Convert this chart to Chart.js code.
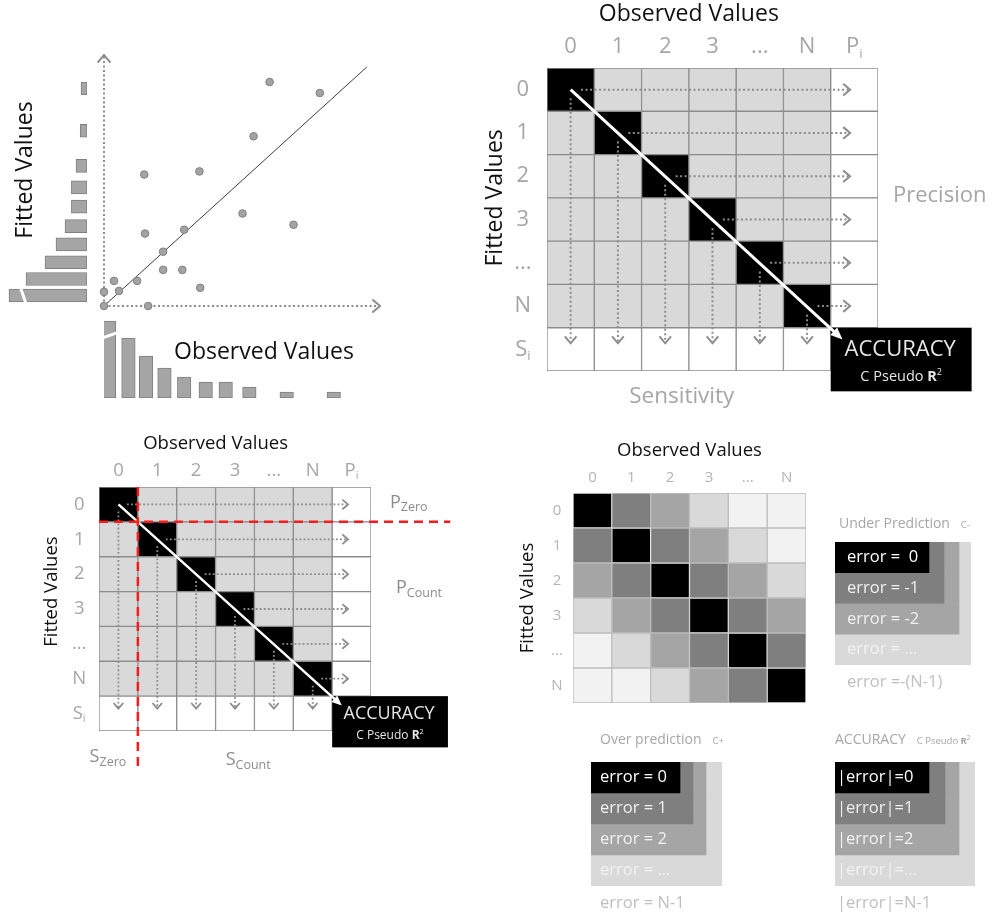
<!DOCTYPE html>
<html>
<head>
<meta charset="utf-8">
<script src="https://cdn.jsdelivr.net/npm/chart.js@4.4.1/dist/chart.umd.min.js"></script>
<style>
    html, body { margin: 0; padding: 0; background: #fff; }
    #page { position: relative; width: 1004px; height: 916px; overflow: hidden; }
    #page canvas { position: absolute; }
</style>
</head>
<body>
<div id="page"></div>
<script>
// ============================================
// Data
// ============================================

// Top-left scatter: observed vs fitted (axis units 0..10)
const scatterObserved = [6.30, 8.21, 5.69, 1.53, 3.63, 5.27, 7.21, 1.56, 3.05, 2.25, 2.25, 2.98, 3.66, 0.38, 1.26, 0.57, 0.00, 0.00, 1.68];
const scatterFitted   = [9.37, 8.91, 7.10, 5.50, 5.63, 3.87, 3.40, 3.03, 3.19, 2.27, 1.51, 1.51, 0.76, 1.05, 1.05, 0.63, 0.59, 0.00, 0.00];
const fitLine = [0, 10];

// Marginal histograms
const fittedBins     = [9.10, 7.33, 5.86, 4.96, 4.16, 3.34, 2.58, 1.83, 1.13, 0.44];
const fittedCounts   = [1.5, 1.7, 2.75, 3.9, 3.9, 5.5, 7.75, 10.5, 15.25, 19.5];
const observedBins   = [0.19, 0.93, 1.60, 2.30, 3.05, 3.87, 4.63, 5.53, 6.95, 8.74];
const observedCounts = [19.25, 15, 10.5, 7.5, 5.25, 4, 4, 2.75, 1.5, 1.5];

// Confusion matrices
const observedLabels = ['0', '1', '2', '3', '...', 'N'];
const fittedLabels   = ['0', '1', '2', '3', '...', 'N'];

// Error level per cell (|fitted - observed|, capped)
const heatLevels = [
    [0, 1, 2, 3, 4, 4],
    [1, 0, 1, 2, 3, 4],
    [2, 1, 0, 1, 2, 3],
    [3, 2, 1, 0, 1, 2],
    [4, 3, 2, 1, 0, 1],
    [4, 4, 3, 2, 1, 0],
];

// Legends
const underLabels = ['error =  0', 'error = -1', 'error = -2', 'error = ...', 'error =-(N-1)'];
const overLabels  = ['error = 0', 'error = 1', 'error = 2', 'error = ...', 'error = N-1'];
const accLabels   = ['|error|=0', '|error|=1', '|error|=2', '|error|=...', '|error|=N-1'];

// ============================================
// Styles
// ============================================

const FONT = "'Open Sans', 'DejaVu Sans', sans-serif";
const LINE_GRAY = '#8c8c8c';
const LABEL_GRAY = '#a6a6a6';
const SHADES = ['#000000', '#7f7f7f', '#a5a5a5', '#d9d9d9', '#f2f2f2'];
const BAR_FILL = '#a5a5a5';
const BAR_EDGE = '#7f7f7f';

// how far each shade reaches in the nested legend boxes
const underReach = [94, 109, 124, 136];
const overReach  = [89, 102, 115, 131];
const accReach   = [94, 110, 124, 140];

// ============================================
// Helpers
// ============================================

function put(left, top, w, h) {
    const c = document.createElement('canvas');
    c.width = w;
    c.height = h;
    c.style.left = left + 'px';
    c.style.top = top + 'px';
    c.style.width = w + 'px';
    c.style.height = h + 'px';
    document.getElementById('page').appendChild(c);
    return c;
}

function base(pad) {
    return {
        responsive: false,
        animation: false,
        events: [],
        layout: { padding: pad },
        plugins: { legend: { display: false }, tooltip: { enabled: false } },
    };
}

function font(size, weight) {
    return `${weight || 400} ${size}px ${FONT}`;
}

const T = (t, size, color, extra) => Object.assign({ t, size, color }, extra || {});

// draw a run of text parts (for subscripts / superscripts)
function text(ctx, parts, x, y, align, rotate) {
    ctx.save();
    ctx.translate(x, y);
    if (rotate) ctx.rotate(rotate);
    let total = 0;
    for (const p of parts) {
        ctx.font = font(p.size, p.weight);
        p.w = ctx.measureText(p.t).width;
        total += p.w;
    }
    let cx = align === 'center' ? -total / 2 : align === 'right' ? -total : 0;
    ctx.textAlign = 'left';
    ctx.textBaseline = 'middle';
    for (const p of parts) {
        ctx.font = font(p.size, p.weight);
        ctx.fillStyle = p.color;
        ctx.fillText(p.t, cx, p.dy || 0);
        cx += p.w;
    }
    ctx.restore();
}

function chevron(ctx, x, y, ang, len, spread) {
    ctx.beginPath();
    ctx.moveTo(x - len * Math.cos(ang - spread), y - len * Math.sin(ang - spread));
    ctx.lineTo(x, y);
    ctx.lineTo(x - len * Math.cos(ang + spread), y - len * Math.sin(ang + spread));
    ctx.stroke();
}

function dottedArrow(ctx, x1, y1, x2, y2, lw, head) {
    const ang = Math.atan2(y2 - y1, x2 - x1);
    ctx.save();
    ctx.strokeStyle = LINE_GRAY;
    ctx.lineWidth = lw;
    ctx.setLineDash([lw, lw * 1.25]);
    ctx.beginPath();
    ctx.moveTo(x1, y1);
    ctx.lineTo(x2 - Math.cos(ang) * lw, y2 - Math.sin(ang) * lw);
    ctx.stroke();
    ctx.setLineDash([]);
    chevron(ctx, x2, y2, ang, head, 0.7);
    ctx.restore();
}

function whiteArrow(ctx, x1, y1, x2, y2, lw, head) {
    const ang = Math.atan2(y2 - y1, x2 - x1);
    ctx.save();
    ctx.strokeStyle = '#fff';
    ctx.fillStyle = '#fff';
    ctx.lineWidth = lw;
    ctx.beginPath();
    ctx.moveTo(x1, y1);
    ctx.lineTo(x2 - Math.cos(ang) * head * 0.8, y2 - Math.sin(ang) * head * 0.8);
    ctx.stroke();
    ctx.beginPath();
    ctx.moveTo(x2, y2);
    ctx.lineTo(x2 - head * Math.cos(ang - 0.4), y2 - head * Math.sin(ang - 0.4));
    ctx.lineTo(x2 - head * Math.cos(ang + 0.4), y2 - head * Math.sin(ang + 0.4));
    ctx.closePath();
    ctx.fill();
    ctx.restore();
}

// white slash across a bar to show it was cut short
function slash(ctx, x1, y1, x2, y2) {
    ctx.save();
    ctx.strokeStyle = '#fff';
    ctx.lineWidth = 3;
    ctx.beginPath();
    ctx.moveTo(x1, y1);
    ctx.lineTo(x2, y2);
    ctx.stroke();
    ctx.restore();
}

// ============================================
// Top-left: scatter + marginal histograms
// ============================================

new Chart(put(96, 47, 292, 267), {
    type: 'scatter',
    data: {
        datasets: [
            {
                data: scatterObserved.map((x, i) => ({ x, y: scatterFitted[i] })),
                pointRadius: 3.8,
                pointBackgroundColor: '#a3a3a3',
                pointBorderColor: '#808080',
                pointBorderWidth: 1,
                clip: false,
                order: 0,
            },
            {
                type: 'line',
                data: fitLine.map(v => ({ x: v, y: v })),
                borderColor: '#3c3c3c',
                borderWidth: 1,
                pointRadius: 0,
                clip: false,
                order: 1,
            },
        ],
    },
    options: {
        ...base({ left: 8, right: 8, top: 8, bottom: 8 }),
        scales: {
            x: { type: 'linear', display: false, min: 0, max: 10.5 },
            y: { type: 'linear', display: false, min: 0, max: 10.5 },
        },
    },
    plugins: [{
        id: 'dottedAxes',
        beforeDatasetsDraw(chart) {
            const { ctx, scales: { x, y } } = chart;
            const x0 = x.getPixelForValue(0), y0 = y.getPixelForValue(0);
            dottedArrow(ctx, x0, y0, x.getPixelForValue(10.5), y0, 2, 10);
            dottedArrow(ctx, x0, y0, x0, y.getPixelForValue(10.5), 2, 10);
        },
    }],
});

new Chart(put(0, 47, 95, 267), {
    type: 'bar',
    data: {
        datasets: [{
            data: fittedBins.map((b, i) => ({ y: b, x: fittedCounts[i] })),
            backgroundColor: BAR_FILL,
            borderColor: BAR_EDGE,
            borderWidth: 1,
            borderSkipped: false,
            barThickness: 13,
        }],
    },
    options: {
        ...base({ left: 4, right: 8, top: 8, bottom: 8 }),
        indexAxis: 'y',
        scales: {
            x: { type: 'linear', display: false, min: 0, max: 20.75, reverse: true },
            y: { type: 'linear', display: false, min: 0, max: 10.5, offset: false },
        },
    },
    plugins: [{
        id: 'fitLabels',
        afterDraw(chart) {
            const { ctx, scales: { x } } = chart;
            const bar = chart.getDatasetMeta(0).data[fittedBins.length - 1];
            slash(ctx, x.getPixelForValue(16.6), bar.y - bar.height / 2 - 1,
                x.getPixelForValue(15.3), bar.y + bar.height / 2 + 1);
            text(ctx, [T('Fitted Values', 23, '#111')], 25, 123, 'center', -Math.PI / 2);
        },
    }],
});

new Chart(put(96, 310, 292, 96), {
    type: 'bar',
    data: {
        datasets: [{
            data: observedBins.map((b, i) => ({ x: b, y: observedCounts[i] })),
            backgroundColor: BAR_FILL,
            borderColor: BAR_EDGE,
            borderWidth: 1,
            borderSkipped: false,
            barThickness: 13.5,
        }],
    },
    options: {
        ...base({ left: 8, right: 8, top: 8, bottom: 8 }),
        scales: {
            x: { type: 'linear', display: false, min: 0, max: 10.5, offset: false },
            y: { type: 'linear', display: false, min: 0, max: 20 },
        },
    },
    plugins: [{
        id: 'obsLabels',
        afterDraw(chart) {
            const { ctx, scales: { y } } = chart;
            const bar = chart.getDatasetMeta(0).data[0];
            slash(ctx, bar.x - bar.width / 2 - 1, y.getPixelForValue(14.9),
                bar.x + bar.width / 2 + 1, y.getPixelForValue(16.3));
            text(ctx, [T('Observed Values', 23, '#111')], 78, 42, 'left');
        },
    }],
});

// ============================================
// Confusion matrices (stacked bars = cells)
// ============================================

function confusionChart(canvas, pad, S) {
    const n = observedLabels.length;
    const rowKeys = [...fittedLabels, 'S'];
    const colKeys = [...observedLabels, 'P'];
    const shade = (i, j) => (i === n || j === n) ? '#ffffff' : i === j ? SHADES[0] : SHADES[3];

    return new Chart(canvas, {
        type: 'bar',
        data: {
            labels: rowKeys,
            datasets: colKeys.map((c, j) => ({
                data: rowKeys.map((r, i) => (i === n && j === n) ? null : 1),
                backgroundColor: rowKeys.map((r, i) => shade(i, j)),
                borderColor: LINE_GRAY,
                borderWidth: 1,
                borderSkipped: false,
                categoryPercentage: 1,
                barPercentage: 1,
            })),
        },
        options: {
            ...base(pad),
            indexAxis: 'y',
            scales: {
                x: { type: 'linear', display: false, min: 0, max: n + 1, stacked: true },
                y: { display: false, stacked: true },
            },
        },
        plugins: [{
            id: 'confusion',
            afterDraw(chart) {
                const { ctx, chartArea: a, scales: { x, y } } = chart;
                const cw = x.getPixelForValue(1) - x.getPixelForValue(0);
                const rh = y.getPixelForValue(1) - y.getPixelForValue(0);

                // precision (row) and sensitivity (column) arrows
                for (let i = 0; i < n; i++) {
                    const yc = y.getPixelForValue(i);
                    dottedArrow(ctx, x.getPixelForValue(i + 0.72), yc, x.getPixelForValue(n + 0.41), yc, S.lw, S.head);
                    const xc = x.getPixelForValue(i + 0.5);
                    dottedArrow(ctx, xc, y.getPixelForValue(i + 0.2), xc, y.getPixelForValue(n - 0.14), S.lw, S.head);
                }

                // accuracy box
                const bx = x.getPixelForValue(n), by = y.getPixelForValue(n - 0.5);
                const bw = 2.98 * cw, bh = 1.47 * rh;
                ctx.fillStyle = '#000';
                ctx.fillRect(bx, by, bw, bh);
                text(ctx, [T('ACCURACY', S.acc, '#e6e6e6')], bx + bw / 2 - 1, by + 0.34 * bh, 'center');
                text(ctx, [T('C Pseudo ', S.accSub, '#e6e6e6'), T('R', S.accSub, '#e6e6e6', { weight: 700 }),
                    T('2', S.accSub * 0.62, '#e6e6e6', { dy: -S.accSub * 0.3 })], bx + bw / 2, by + 0.77 * bh, 'center');

                whiteArrow(ctx, x.getPixelForValue(0.5), y.getPixelForValue(0),
                    bx + 0.25 * cw, by + 0.27 * rh, S.diag, S.diagHead);

                // labels
                text(ctx, [T('Observed Values', S.title, '#111')], x.getPixelForValue(n / 2), a.top - 1.24 * rh, 'center');
                text(ctx, [T('Fitted Values', S.title, '#111')], a.left - S.fittedDx, y.getPixelForValue((n - 1) / 2), 'center', -Math.PI / 2);
                const sub = (m) => [T(m, S.tick, S.tickColor), T('i', S.tick * 0.6, S.tickColor, { dy: S.tick * 0.3 })];
                observedLabels.forEach((l, j) =>
                    text(ctx, [T(l, S.tick, S.tickColor)], x.getPixelForValue(j + 0.5), a.top - 0.48 * rh, 'center'));
                text(ctx, sub('P'), x.getPixelForValue(n + 0.5), a.top - 0.48 * rh, 'center');
                fittedLabels.forEach((l, i) =>
                    text(ctx, [T(l, S.tick, S.tickColor)], a.left - 0.51 * cw, y.getPixelForValue(i), 'center'));
                text(ctx, sub('S'), a.left - 0.51 * cw, y.getPixelForValue(n), 'center');

                S.after && S.after(ctx, a, x, y, cw, rh);
            },
        }],
    });
}

// top-right
confusionChart(put(470, 0, 534, 410), { left: 77, right: 126, top: 68, bottom: 39 }, {
    title: 23, tick: 22, tickColor: LABEL_GRAY, fittedDx: 52,
    acc: 22, accSub: 14.5, lw: 2, head: 9, diag: 3, diagHead: 13,
    after(ctx, a, x, y) {
        text(ctx, [T('Precision', 22, LABEL_GRAY)], a.right + 15, y.getPixelForValue(2.44), 'left');
        text(ctx, [T('Sensitivity', 22.5, LABEL_GRAY)], x.getPixelForValue(2.85), a.bottom + 26, 'center');
    },
});

// bottom-left (zero / count split)
confusionChart(put(0, 425, 470, 350), { left: 99, right: 99, top: 62, bottom: 44 }, {
    title: 18.5, tick: 18.5, tickColor: LABEL_GRAY, fittedDx: 47,
    acc: 18, accSub: 12, lw: 1.8, head: 7.5, diag: 2.5, diagHead: 11,
    after(ctx, a, x, y, cw, rh) {
        const g = '#8c8c8c';
        const ps = (m, s) => [T(m, 18, g), T(s, 12.5, g, { dy: 5 })];
        text(ctx, ps('P', 'Zero'), a.right + 19, y.getPixelForValue(0) - 2, 'left');
        text(ctx, ps('P', 'Count'), a.right + 25, y.getPixelForValue(2.4), 'left');
        text(ctx, ps('S', 'Zero'), x.getPixelForValue(0.23), a.bottom + 26, 'center');
        text(ctx, ps('S', 'Count'), x.getPixelForValue(3.84), a.bottom + 29, 'center');

        ctx.save();
        ctx.strokeStyle = '#ff1a1a';
        ctx.lineWidth = 2.5;
        ctx.setLineDash([9, 6]);
        ctx.beginPath();
        ctx.moveTo(a.left, y.getPixelForValue(0.5));
        ctx.lineTo(a.right + 2.04 * cw, y.getPixelForValue(0.5));
        ctx.moveTo(x.getPixelForValue(1), a.top);
        ctx.lineTo(x.getPixelForValue(1), a.bottom + 1.06 * rh);
        ctx.stroke();
        ctx.restore();
    },
});

// ============================================
// Bottom-right: error level heat matrix
// ============================================

new Chart(put(510, 430, 300, 280), {
    type: 'bar',
    data: {
        labels: fittedLabels,
        datasets: observedLabels.map((c, j) => ({
            data: fittedLabels.map(() => 1),
            backgroundColor: fittedLabels.map((r, i) => SHADES[heatLevels[i][j]]),
            borderColor: fittedLabels.map((r, i) => i === j ? '#e8e8e8' : '#bdbdbd'),
            borderWidth: 1,
            borderSkipped: false,
            categoryPercentage: 1,
            barPercentage: 1,
        })),
    },
    options: {
        ...base({ left: 63, right: 4, top: 63, bottom: 7 }),
        indexAxis: 'y',
        scales: {
            x: { type: 'linear', display: false, min: 0, max: observedLabels.length, stacked: true },
            y: { display: false, stacked: true },
        },
    },
    plugins: [{
        id: 'heatLabels',
        afterDraw(chart) {
            const { ctx, chartArea: a, scales: { x, y } } = chart;
            const c = '#b4b4b4';
            text(ctx, [T('Observed Values', 18.5, '#111')], x.getPixelForValue(3), a.top - 42, 'center');
            text(ctx, [T('Fitted Values', 18.5, '#111')], a.left - 45, y.getPixelForValue(2.5), 'center', -Math.PI / 2);
            observedLabels.forEach((l, j) => text(ctx, [T(l, 15, c)], x.getPixelForValue(j + 0.5), a.top - 15, 'center'));
            fittedLabels.forEach((l, i) => text(ctx, [T(l, 15, c)], a.left - 16, y.getPixelForValue(i), 'center'));
        },
    }],
});

// ============================================
// Legends: nested shade boxes
// ============================================

function legendChart(canvas, pad, labels, reach, S) {
    const bands = labels.slice(0, reach.length);
    return new Chart(canvas, {
        type: 'bar',
        data: {
            labels: bands,
            datasets: reach.map((r, k) => ({
                data: bands.map((b, row) => row > k ? null : row === k ? reach[k] : reach[k] - reach[k - 1]),
                backgroundColor: SHADES[k],
                borderWidth: 0,
                categoryPercentage: 1,
                barPercentage: 1,
            })),
        },
        options: {
            ...base(pad),
            indexAxis: 'y',
            scales: {
                x: { type: 'linear', display: false, min: 0, max: reach[reach.length - 1], stacked: true },
                y: { display: false, stacked: true },
            },
        },
        plugins: [{
            id: 'legendText',
            afterDraw(chart) {
                const { ctx, chartArea: a, scales: { y } } = chart;
                const rh = y.getPixelForValue(1) - y.getPixelForValue(0);
                const colors = ['#ffffff', '#f0f0f0', '#f2f2f2', '#f2f2f2'];
                bands.forEach((b, i) => text(ctx, [T(b, 16.5, colors[i])], a.left + S.textDx, y.getPixelForValue(i), 'left'));
                text(ctx, [T(labels[labels.length - 1], 16.5, '#bfbfbf')], a.left + S.textDx, a.bottom + 0.55 * rh, 'left');
                text(ctx, S.title, a.left + S.titleDx, a.top - S.titleDy, 'left');
            },
        }],
    });
}

const small = (t) => T(t, 9.5, LABEL_GRAY, { dy: 1 });

legendChart(put(820, 500, 184, 200), { left: 15, right: 33, top: 42, bottom: 35 }, underLabels, underReach, {
    textDx: 12, titleDx: 4, titleDy: 18,
    title: [T('Under Prediction   ', 14, LABEL_GRAY), small('C-')],
});
legendChart(put(576, 720, 200, 196), { left: 15, right: 54, top: 42, bottom: 30 }, overLabels, overReach, {
    textDx: 9, titleDx: 9, titleDy: 22,
    title: [T('Over prediction   ', 14, LABEL_GRAY), small('C+')],
});
legendChart(put(820, 720, 184, 196), { left: 15, right: 29, top: 42, bottom: 30 }, accLabels, accReach, {
    textDx: 2, titleDx: 0, titleDy: 22,
    title: [T('ACCURACY   ', 14, LABEL_GRAY), small('C Pseudo '), T('R', 9.5, LABEL_GRAY, { dy: 1, weight: 700 }),
        T('2', 6.5, LABEL_GRAY, { dy: -2 })],
});
</script>
</body>
</html>
